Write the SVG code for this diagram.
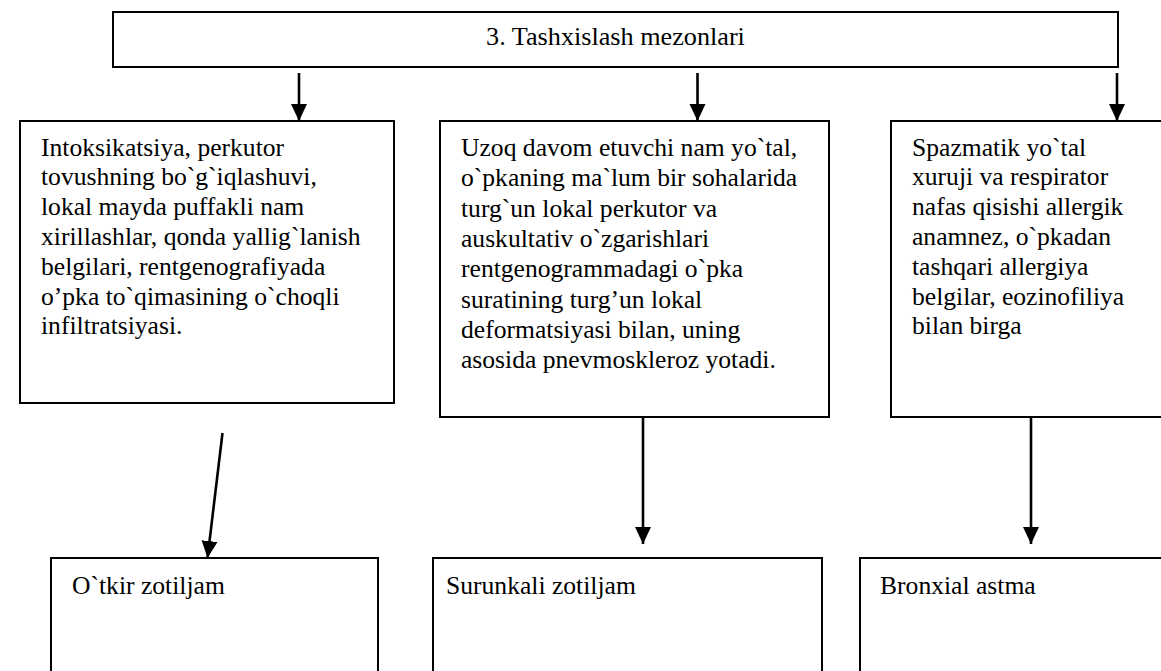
<svg xmlns="http://www.w3.org/2000/svg" width="1161" height="671" viewBox="0 0 1161 671">
  <style>
    .box { fill: #ffffff; stroke: #000000; stroke-width: 2; }
    .txt { font-family: "Liberation Serif", "Times New Roman", serif; font-size: 25.6px; fill: #000000; }
    .title { font-size: 26.2px; }
    .conn { stroke: #000000; stroke-width: 2.6; fill: none; marker-end: url(#arrow); }
  </style>
  <defs>
    <marker id="arrow" markerUnits="userSpaceOnUse" markerWidth="18" markerHeight="18" viewBox="0 0 18 18" refX="17" refY="9" orient="auto">
      <path d="M0,1 L17,9 L0,17 Z" fill="#000000"/>
    </marker>
  </defs>
  <rect width="1161" height="671" fill="#ffffff"/>

  <!-- header -->
  <g id="header">
    <rect class="box" x="113" y="12" width="1005" height="55"/>
    <text class="txt title" font-family="Liberation Serif, serif" x="615.5" y="45" text-anchor="middle">3. Tashxislash mezonlari</text>
  </g>

  <!-- criteria boxes -->
  <g id="criteria-acute">
    <rect class="box" x="20" y="121" width="374" height="282"/>
    <text class="txt" font-family="Liberation Serif, serif" x="41" y="155.5">
      <tspan x="41">Intoksikatsiya, perkutor</tspan>
      <tspan x="41" dy="29.8">tovushning bo`g`iqlashuvi,</tspan>
      <tspan x="41" dy="29.8">lokal mayda puffakli nam</tspan>
      <tspan x="41" dy="29.8">xirillashlar, qonda yallig`lanish</tspan>
      <tspan x="41" dy="29.8">belgilari, rentgenografiyada</tspan>
      <tspan x="41" dy="29.8">o’pka to`qimasining o`choqli</tspan>
      <tspan x="41" dy="29.8">infiltratsiyasi.</tspan>
    </text>
  </g>

  <g id="criteria-chronic">
    <rect class="box" x="440" y="121" width="389" height="296"/>
    <text class="txt" font-family="Liberation Serif, serif" x="461" y="156">
      <tspan x="461">Uzoq davom etuvchi nam yo`tal,</tspan>
      <tspan x="461" dy="30.3">o`pkaning ma`lum bir sohalarida</tspan>
      <tspan x="461" dy="30.3">turg`un lokal perkutor va</tspan>
      <tspan x="461" dy="30.3">auskultativ o`zgarishlari</tspan>
      <tspan x="461" dy="30.3">rentgenogrammadagi o`pka</tspan>
      <tspan x="461" dy="30.3">suratining turg’un lokal</tspan>
      <tspan x="461" dy="30.3">deformatsiyasi bilan, uning</tspan>
      <tspan x="461" dy="30.3">asosida pnevmoskleroz yotadi.</tspan>
    </text>
  </g>

  <g id="criteria-asthma">
    <rect class="box" x="891" y="121" width="290" height="296"/>
    <text class="txt" font-family="Liberation Serif, serif" x="912" y="155.5">
      <tspan x="912">Spazmatik yo`tal</tspan>
      <tspan x="912" dy="29.8">xuruji va respirator</tspan>
      <tspan x="912" dy="29.8">nafas qisishi allergik</tspan>
      <tspan x="912" dy="29.8">anamnez, o`pkadan</tspan>
      <tspan x="912" dy="29.8">tashqari allergiya</tspan>
      <tspan x="912" dy="29.8">belgilar, eozinofiliya</tspan>
      <tspan x="912" dy="29.8">bilan birga</tspan>
    </text>
  </g>

  <!-- diagnosis boxes -->
  <g id="diagnosis-acute">
    <rect class="box" x="51" y="558" width="327" height="140"/>
    <text class="txt" font-family="Liberation Serif, serif" x="72" y="593.5">O`tkir zotiljam</text>
  </g>

  <g id="diagnosis-chronic">
    <rect class="box" x="433" y="558" width="389" height="140"/>
    <text class="txt" font-family="Liberation Serif, serif" x="446" y="593.5">Surunkali zotiljam</text>
  </g>

  <g id="diagnosis-asthma">
    <rect class="box" x="860" y="558" width="320" height="140"/>
    <text class="txt" font-family="Liberation Serif, serif" x="880" y="593.5">Bronxial astma</text>
  </g>

  <!-- connectors -->
  <g id="connectors">
    <line class="conn" x1="299" y1="73" x2="299" y2="121"/>
    <line class="conn" x1="697.5" y1="73" x2="697.5" y2="121"/>
    <line class="conn" x1="1117" y1="73" x2="1117" y2="121"/>
    <line class="conn" x1="222.5" y1="433" x2="207.5" y2="558"/>
    <line class="conn" x1="643" y1="417" x2="643" y2="544"/>
    <line class="conn" x1="1031" y1="417" x2="1031" y2="544"/>
  </g>
</svg>
